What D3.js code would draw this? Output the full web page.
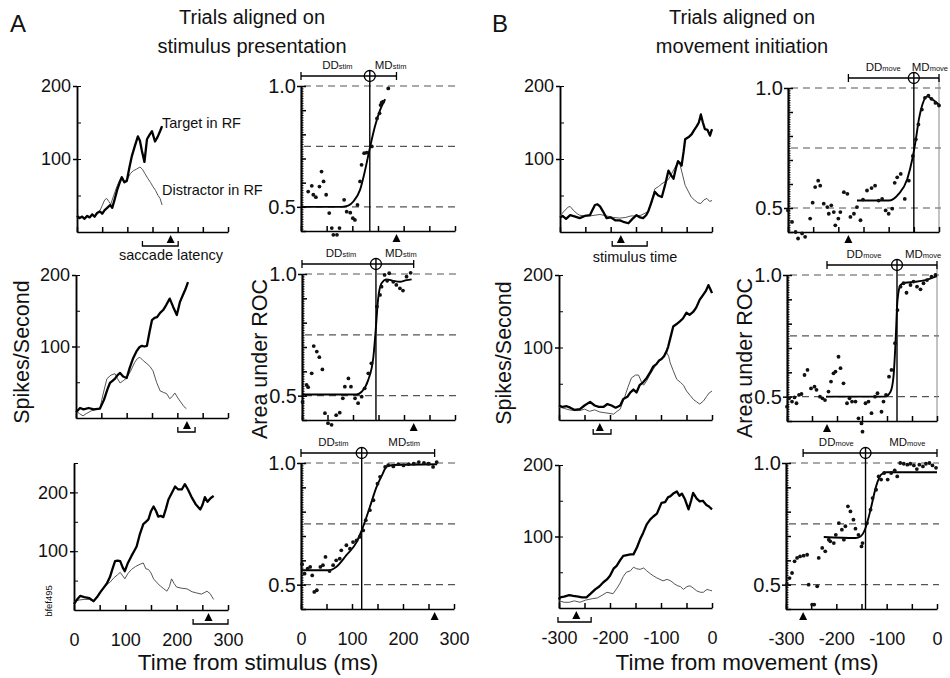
<!DOCTYPE html>
<html>
  <head>
    <meta charset='utf-8'>
    <style>
      body { margin: 0; background: #fff; }
      svg text { font-family: "Liberation Sans", Arial, sans-serif; fill: #111; }
      .axis path, .axis line { stroke: #000; stroke-width: 1.5; }
      .axis.thin line { stroke-width: 1; }
      .axis text { font-size: 18px; font-family: "Liberation Sans", Arial, sans-serif; fill: #111; }
      .axis.roc text { font-size: 20px; }
    </style>
  </head>
  <body>
    <script src="https://d3js.org/d3.v7.min.js"></script>
    <script type="text/javascript">

      // --------------------------- data --------------------------
      // spike density [time ms, spikes/s] ; target in RF (thick) and distractor in RF (thin)
      var a1Target = [[0,22],[5,19],[10,21],[15,18],[20,22],[25,20],[30,24],[35,21],[40,26],[46,28],[50,25],[55,30],[60,33],[66,37],[70,33],[75,45],[80,58],[85,68],[89,75],[94,68],[99,70],[104,88],[109,104],[115,118],[121,131],[125,125],[129,111],[134,96],[139,127],[144,133],[149,138],[152,131],[155,124],[160,130],[165,138],[169,145]];
      var a1Distractor = [[0,24],[5,20],[10,22],[15,19],[20,23],[25,21],[30,25],[35,22],[40,27],[46,30],[50,36],[55,44],[59,46],[63,42],[67,38],[72,48],[78,60],[84,70],[89,76],[94,70],[100,72],[106,80],[112,84],[118,86],[125,89],[130,86],[135,80],[141,73],[146,68],[151,62],[156,57],[161,50],[165,46],[169,37]];
      var a2Target = [[0,8],[8,14],[15,12],[25,14],[35,12],[47,13],[55,25],[62,40],[67,49],[72,52],[77,55],[82,60],[87,63],[93,58],[100,56],[106,70],[113,84],[120,94],[125,99],[130,101],[135,100],[140,101],[145,120],[150,137],[155,140],[160,141],[166,147],[172,151],[178,158],[185,167],[192,155],[199,144],[205,162],[211,172],[216,180],[221,190]];
      var a2Distractor = [[0,10],[7,6],[14,3],[20,6],[30,10],[40,12],[47,13],[54,35],[61,55],[69,60],[77,62],[82,55],[87,49],[93,52],[100,56],[108,66],[116,78],[121,83],[126,85],[133,80],[140,76],[146,72],[152,66],[159,50],[166,38],[172,36],[179,34],[185,27],[190,30],[195,35],[201,28],[208,21],[213,16],[218,13]];
      var a3Target = [[0,10],[6,18],[12,24],[20,22],[30,20],[38,15],[45,22],[51,30],[58,38],[64,45],[70,56],[75,70],[80,83],[85,84],[90,83],[95,72],[99,66],[105,80],[112,92],[117,100],[122,108],[128,128],[135,146],[140,150],[145,154],[150,168],[155,176],[160,168],[164,159],[169,160],[174,158],[179,172],[184,188],[190,198],[197,210],[203,205],[210,205],[216,214],[222,205],[229,192],[237,180],[246,171],[250,178],[255,192],[260,184],[266,190],[272,194]];
      var a3Distractor = [[0,14],[10,17],[20,18],[30,18],[38,15],[45,22],[51,30],[58,38],[64,44],[70,47],[78,55],[85,60],[90,64],[95,58],[99,53],[105,62],[112,69],[120,74],[129,78],[135,80],[140,70],[145,69],[150,63],[155,53],[162,46],[168,41],[175,36],[181,32],[186,40],[190,53],[195,45],[200,39],[210,37],[220,36],[230,31],[239,29],[248,27],[255,30],[259,32],[265,28],[272,18]];

      var b1Target = [[-300,20],[-295,22],[-288,18],[-280,23],[-270,21],[-261,19],[-251,22],[-241,23],[-236,30],[-231,37],[-226,38],[-221,35],[-215,28],[-208,19],[-200,20],[-191,16],[-182,16],[-175,14],[-165,12],[-157,18],[-149,23],[-142,20],[-136,19],[-130,23],[-126,28],[-120,40],[-113,55],[-106,50],[-99,48],[-92,66],[-86,84],[-81,78],[-76,73],[-71,88],[-67,97],[-63,94],[-60,91],[-56,110],[-53,127],[-46,130],[-40,134],[-35,140],[-30,145],[-26,150],[-22,161],[-18,150],[-14,141],[-9,140],[-4,132],[0,141]];
      var b1Distractor = [[-300,22],[-295,26],[-290,30],[-284,34],[-280,35],[-274,30],[-266,25],[-261,23],[-251,22],[-241,22],[-231,23],[-221,24],[-208,22],[-195,20],[-182,19],[-170,20],[-160,22],[-149,22],[-140,23],[-126,28],[-119,40],[-113,59],[-106,62],[-99,66],[-90,70],[-85,73],[-78,82],[-71,91],[-67,96],[-63,92],[-58,78],[-53,64],[-47,56],[-41,48],[-35,44],[-28,40],[-22,39],[-16,44],[-10,46],[-5,42],[0,43]];
      var b2Target = [[-300,20],[-293,18],[-285,19],[-278,17],[-270,14],[-259,15],[-250,20],[-239,25],[-230,20],[-222,18],[-213,18],[-205,22],[-197,20],[-189,17],[-180,20],[-174,29],[-166,32],[-160,38],[-154,42],[-148,38],[-142,48],[-135,52],[-128,58],[-121,66],[-115,74],[-109,77],[-104,82],[-99,84],[-94,88],[-89,95],[-86,101],[-81,115],[-76,129],[-70,132],[-63,136],[-57,140],[-50,148],[-44,145],[-37,149],[-31,155],[-24,166],[-18,172],[-12,178],[-7,186],[-3,180],[0,175]];
      var b2Distractor = [[-300,18],[-290,16],[-280,14],[-270,13],[-259,13],[-250,15],[-240,12],[-230,14],[-220,11],[-210,10],[-200,9],[-193,8],[-186,12],[-180,15],[-172,30],[-165,45],[-158,58],[-150,62],[-144,62],[-138,52],[-134,48],[-128,54],[-122,62],[-115,70],[-108,78],[-99,84],[-94,89],[-89,93],[-85,88],[-82,79],[-76,68],[-69,56],[-62,52],[-56,48],[-50,40],[-43,34],[-36,28],[-30,25],[-24,22],[-17,26],[-11,32],[-6,37],[0,40]];
      var b3Target = [[-300,12],[-298,15],[-290,16],[-280,18],[-272,17],[-262,16],[-255,15],[-246,15],[-238,20],[-229,26],[-221,30],[-213,36],[-206,40],[-200,45],[-193,55],[-187,59],[-180,67],[-174,73],[-167,74],[-160,75],[-154,75],[-147,85],[-141,96],[-135,105],[-128,117],[-121,124],[-115,128],[-108,132],[-99,147],[-92,148],[-86,155],[-82,156],[-76,160],[-69,163],[-64,157],[-59,160],[-53,152],[-46,138],[-41,150],[-37,161],[-30,153],[-24,149],[-18,150],[-11,144],[-6,142],[0,138]];
      var b3Distractor = [[-300,10],[-290,8],[-280,8],[-270,10],[-259,8],[-248,11],[-235,13],[-225,14],[-215,18],[-206,22],[-200,21],[-194,20],[-186,28],[-180,35],[-174,44],[-168,50],[-160,52],[-154,57],[-148,55],[-141,54],[-134,56],[-128,52],[-121,48],[-115,45],[-108,42],[-102,40],[-96,38],[-88,40],[-81,38],[-74,34],[-67,31],[-62,30],[-56,26],[-49,30],[-43,31],[-37,28],[-30,24],[-23,22],[-17,22],[-10,26],[-5,25],[0,24]];

      // area under ROC [time ms, value] : points and fitted curve
      var rocA1Dots = [[14,0.563],[21,0.587],[24,0.55],[29,0.54],[36,0.584],[40,0.646],[44,0.605],[49,0.55],[55,0.474],[60,0.412],[63,0.384],[70,0.384],[75,0.412],[84,0.529],[89,0.48],[96,0.476],[101,0.453],[105,0.446],[110,0.508],[115,0.605],[118,0.674],[123,0.722],[128,0.724],[138,0.75],[148,0.866],[153,0.887],[155,0.921],[157,0.931],[160,0.935],[170,0.99]];
      var rocA1Fit = [[0,0.5],[80,0.5],[92,0.505],[102,0.522],[115,0.57],[125,0.653],[134,0.742],[144,0.832],[154,0.9],[164,0.945]];
      var rocA2Dots = [[1,0.474],[9,0.544],[12,0.535],[19,0.592],[23,0.704],[29,0.681],[34,0.658],[40,0.608],[45,0.428],[51,0.387],[58,0.38],[67,0.42],[74,0.43],[80,0.489],[84,0.537],[91,0.571],[96,0.537],[104,0.489],[110,0.469],[117,0.496],[123,0.53],[130,0.592],[136,0.633],[147,0.866],[153,0.914],[156,0.948],[162,0.996],[167,0.972],[171,1.003],[179,0.968],[185,0.955],[192,0.941],[198,0.932],[205,0.989],[213,1.005]];
      var rocA2Fit = [[1,0.505],[107,0.505],[117,0.516],[130,0.565],[140,0.66],[145,0.783],[149,0.893],[156,0.962],[166,0.978],[179,0.972],[192,0.968],[205,0.975],[215,0.978]];
      var rocA3Dots = [[2,0.584],[7,0.545],[13,0.566],[18,0.573],[22,0.538],[26,0.47],[31,0.477],[38,0.573],[43,0.58],[48,0.614],[56,0.556],[63,0.58],[69,0.6],[76,0.607],[79,0.641],[89,0.662],[96,0.648],[102,0.675],[109,0.682],[115,0.696],[122,0.723],[127,0.765],[135,0.806],[142,0.847],[150,0.915],[155,0.943],[165,0.984],[171,0.991],[181,0.986],[191,0.995],[201,0.99],[211,0.995],[221,0.997],[231,1.004],[241,1.0],[250,0.997],[259,0.984],[266,1.004]];
      var rocA3Fit = [[0,0.559],[53,0.559],[69,0.573],[89,0.621],[109,0.675],[119,0.723],[135,0.819],[148,0.901],[158,0.946],[168,0.985],[181,0.992],[267,0.995]];
      var rocB1Dots = [[-300,0.49],[-292,0.442],[-285,0.40],[-280,0.373],[-272,0.394],[-266,0.38],[-256,0.456],[-251,0.522],[-246,0.587],[-240,0.614],[-236,0.593],[-229,0.518],[-222,0.504],[-219,0.476],[-214,0.511],[-209,0.483],[-206,0.428],[-200,0.456],[-196,0.483],[-189,0.566],[-182,0.559],[-176,0.463],[-169,0.476],[-163,0.504],[-156,0.449],[-151,0.535],[-143,0.573],[-134,0.583],[-127,0.593],[-120,0.531],[-113,0.538],[-106,0.49],[-100,0.476],[-93,0.497],[-88,0.605],[-83,0.628],[-76,0.642],[-68,0.538],[-60,0.614],[-52,0.717],[-46,0.786],[-41,0.848],[-34,0.91],[-28,0.959],[-21,0.968],[-15,0.955],[-7,0.938],[0,0.927]];
      var rocB1Fit = [[-163,0.531],[-100,0.531],[-80,0.559],[-63,0.621],[-53,0.704],[-46,0.786],[-40,0.869],[-33,0.931],[-23,0.965],[-15,0.955],[0,0.93]];
      var rocB2Dots = [[-300,0.459],[-296,0.493],[-290,0.48],[-285,0.497],[-281,0.473],[-276,0.507],[-271,0.511],[-265,0.589],[-259,0.61],[-252,0.534],[-245,0.541],[-241,0.528],[-234,0.5],[-229,0.493],[-224,0.486],[-217,0.521],[-212,0.562],[-207,0.596],[-203,0.603],[-197,0.664],[-193,0.617],[-187,0.555],[-180,0.473],[-175,0.493],[-170,0.48],[-163,0.48],[-157,0.411],[-151,0.39],[-149,0.356],[-143,0.473],[-137,0.48],[-131,0.432],[-124,0.5],[-119,0.514],[-111,0.438],[-107,0.48],[-102,0.507],[-96,0.582],[-91,0.61],[-84,0.72],[-79,0.856],[-73,0.952],[-67,0.966],[-61,0.927],[-53,0.959],[-47,0.973],[-40,0.952],[-33,0.941],[-27,0.966],[-20,0.979],[-11,0.993],[-3,1.0]];
      var rocB2Fit = [[-222,0.5],[-104,0.5],[-93,0.52],[-87,0.582],[-83,0.72],[-79,0.897],[-73,0.959],[-64,0.968],[-43,0.972],[-23,0.979],[0,0.995]];
      var rocB3Dots = [[-298,0.5],[-293,0.527],[-288,0.548],[-283,0.596],[-278,0.61],[-272,0.616],[-265,0.619],[-258,0.623],[-255,0.5],[-248,0.418],[-244,0.418],[-238,0.493],[-235,0.61],[-228,0.651],[-222,0.637],[-215,0.685],[-212,0.678],[-205,0.671],[-201,0.705],[-195,0.753],[-189,0.726],[-185,0.685],[-182,0.74],[-177,0.822],[-172,0.801],[-166,0.767],[-162,0.73],[-156,0.705],[-150,0.657],[-148,0.671],[-139,0.753],[-132,0.808],[-128,0.856],[-121,0.89],[-116,0.945],[-111,0.932],[-105,0.959],[-98,0.932],[-91,0.959],[-84,0.97],[-79,0.945],[-73,1.0],[-66,0.997],[-59,0.993],[-53,0.997],[-46,0.99],[-40,0.975],[-35,0.993],[-28,0.986],[-22,0.997],[-15,1.0],[-9,0.99],[-2,0.98]];
      var rocB3Fit = [[-225,0.696],[-162,0.692],[-152,0.698],[-142,0.733],[-132,0.808],[-121,0.904],[-111,0.952],[-101,0.962],[-81,0.962],[0,0.962]];

      // discrimination time (vertical line) per row
      var crossA = [134, 145, 119];
      var crossB = [-50, -80, -142];
      // mean and range of saccade latency (A) / stimulus time (B)
      var saccadeLatency = [{mean:186, lo:130, hi:201}, {mean:219, lo:201, hi:235}, {mean:262, lo:232, hi:300}];
      var stimulusTime = [{mean:-180, lo:-197, hi:-128}, {mean:-220, lo:-233, hi:-198}, {mean:-266, lo:-302, hi:-237}];

      var stimTicks = [0, 50, 100, 150, 200, 250, 300];
      var moveTicks = [-300, -250, -200, -150, -100, -50, 0];
      var stimTickLabels = [0, 100, 200, 300];
      var moveTickLabels = [-300, -200, -100, 0];
      var spikeLabels = [100, 200];
      var rocLabels = [0.5, 1.0];
      var rocRefLines = [0.5, 0.75, 1.0];

      // --------------------------- layout (pixels) --------------------------
      var width = 950, height = 678;
      var spikeFrames = [
        {x0:77, x1:228, y0:232, y1:86, top:200},
        {x0:76, x1:228, y0:418, y1:275, top:200},
        {x0:74, x1:228, y0:610, y1:463, top:250},
        {x0:560, x1:712, y0:232, y1:86, top:200},
        {x0:559, x1:712, y0:420, y1:275, top:200},
        {x0:559, x1:712, y0:608, y1:465, top:200}
      ];
      var rocFrames = [
        {x0:301, x1:455, y0:231, y1:86},
        {x0:302, x1:455, y0:420, y1:274},
        {x0:301, x1:454, y0:609, y1:463},
        {x0:788, x1:939, y0:232, y1:88},
        {x0:787, x1:937, y0:421, y1:275},
        {x0:786, x1:937, y0:609, y1:463}
      ];

      var svg = d3.select("body").append("svg")
        .attr("width", width).attr("height", height)
        .style("display", "block");

      function drawSpike(f, dom, target, distractor, mk, xt, xl) {
        var x = d3.scaleLinear().domain(dom).range([f.x0, f.x1]);
        var y = d3.scaleLinear().domain([0, f.top]).range([f.y0, f.y1]);
        var g = svg.append("g");
        var line = d3.line().x(function(d){ return x(d[0]); }).y(function(d){ return y(d[1]); });

        g.append("g").attr("class", "axis").attr("transform", "translate(0," + f.y0 + ")")
          .call(d3.axisBottom(x).tickValues(xt).tickSizeInner(-5).tickSizeOuter(0).tickPadding(23)
            .tickFormat(function(d){ return xl.indexOf(d) >= 0 ? d : ""; }));
        g.append("g").attr("class", "axis thin").attr("transform", "translate(" + f.x0 + ",0)")
          .call(d3.axisLeft(y).tickValues(d3.range(50, f.top + 1, 50)).tickSizeInner(-4).tickSizeOuter(0).tickFormat(""));
        g.append("g").attr("class", "axis").attr("transform", "translate(" + f.x0 + ",0)")
          .call(d3.axisLeft(y).tickValues(spikeLabels).tickSizeInner(4).tickSizeOuter(0).tickPadding(2));

        g.append("path").datum(distractor).attr("d", line)
          .attr("fill", "none").attr("stroke", "#555").attr("stroke-width", 1);
        g.append("path").datum(target).attr("d", line)
          .attr("fill", "none").attr("stroke", "#000").attr("stroke-width", 2.3)
          .attr("stroke-linejoin", "round");

        // mean marker and range bracket under the axis
        var mx = x(mk.mean), by = f.y0 + 14;
        g.append("path")
          .attr("d", "M" + (mx - 4) + "," + (f.y0 + 11) + "L" + mx + "," + (f.y0 + 3) + "L" + (mx + 4) + "," + (f.y0 + 11) + "Z")
          .attr("fill", "#000");
        g.append("path")
          .attr("d", "M" + x(mk.lo) + "," + (by - 5) + "V" + by + "H" + x(mk.hi) + "V" + (by - 5))
          .attr("fill", "none").attr("stroke", "#000").attr("stroke-width", 1.3);
        return x;
      }

      function ddLabel(g, base, name, sub, pos, minLeft) {
        var t = g.append("text").attr("y", base).attr("fill", "#222");
        t.append("tspan").text(name).style("font-size", "11.5px");
        t.append("tspan").text(sub).style("font-size", "7.5px");
        var w = t.node().getComputedTextLength();
        var left = pos - w / 2;
        if (minLeft !== undefined) left = Math.max(left, minLeft);
        // keep inside the picture
        left = Math.min(left, width - 2 - w);
        t.attr("x", left);
      }

      function drawRoc(f, dom, dots, fit, cross, dd, tri, sub, xt, xl, edge) {
        var x = d3.scaleLinear().domain(dom).range([f.x0, f.x1]);
        var y = d3.scaleLinear().domain([0.4, 1.0]).range([f.y0, f.y1]);
        var g = svg.append("g");
        var by = y(1.0) - 10;

        g.selectAll(".ref").data(rocRefLines).enter().append("line")
          .attr("x1", f.x0 + 3).attr("x2", f.x1 + 2)
          .attr("y1", function(d){ return y(d); }).attr("y2", function(d){ return y(d); })
          .attr("stroke", "#555").attr("stroke-width", 1.1).attr("stroke-dasharray", "7,5");
        if (edge) {
          g.append("line").attr("x1", x(dom[1])).attr("x2", x(dom[1])).attr("y1", by).attr("y2", f.y0)
            .attr("stroke", "#888").attr("stroke-width", 1);
        }

        g.append("g").attr("class", "axis").attr("transform", "translate(0," + f.y0 + ")")
          .call(d3.axisBottom(x).tickValues(xt).tickSizeInner(-5).tickSizeOuter(0).tickPadding(23)
            .tickFormat(function(d){ return xl.indexOf(d) >= 0 ? d : ""; }));
        g.append("g").attr("class", "axis thin").attr("transform", "translate(" + f.x0 + ",0)")
          .call(d3.axisLeft(y).tickValues(d3.range(0.41, 0.995, 0.01)).tickSizeInner(-2.5).tickSizeOuter(0).tickFormat(""));
        g.append("g").attr("class", "axis").attr("transform", "translate(" + f.x0 + ",0)")
          .call(d3.axisLeft(y).tickValues(d3.range(0.4, 1.001, 0.1)).tickSizeInner(-5).tickSizeOuter(0).tickFormat(""));
        g.append("g").attr("class", "axis roc").attr("transform", "translate(" + f.x0 + ",0)")
          .call(d3.axisLeft(y).tickValues(rocLabels).tickSizeInner(4).tickSizeOuter(0).tickPadding(1)
            .tickFormat(d3.format(".1f")));

        g.append("path").datum(fit)
          .attr("d", d3.line().curve(d3.curveMonotoneX)
            .x(function(d){ return x(d[0]); }).y(function(d){ return y(d[1]); }))
          .attr("fill", "none").attr("stroke", "#000").attr("stroke-width", 1.9);
        g.selectAll(".dot").data(dots).enter().append("circle")
          .attr("cx", function(d){ return x(d[0]); })
          .attr("cy", function(d){ return y(d[1]); })
          .attr("r", 1.9).attr("fill", "#111");

        // discrimination time, bracket and crosshair
        var cx = x(cross), bx0 = x(dd[0]), bx1 = x(dd[1]);
        g.append("line").attr("x1", cx).attr("x2", cx).attr("y1", f.y0).attr("y2", by - 5.5)
          .attr("stroke", "#000").attr("stroke-width", 1.4);
        g.append("path")
          .attr("d", "M" + bx0 + "," + (by - 4) + "V" + (by + 4) + "M" + bx0 + "," + by + "H" + bx1 +
                     "M" + bx1 + "," + (by - 4) + "V" + (by + 4))
          .attr("fill", "none").attr("stroke", "#000").attr("stroke-width", 1.3);
        g.append("circle").attr("cx", cx).attr("cy", by).attr("r", 5.5)
          .attr("fill", "none").attr("stroke", "#000").attr("stroke-width", 1.3);
        ddLabel(g, by - 7, "DD", sub, (bx0 + cx) / 2 + 2);
        ddLabel(g, by - 7, "MD", sub, (cx + bx1) / 2 + 6, cx + 5);

        var tx = x(tri);
        g.append("path")
          .attr("d", "M" + (tx - 4) + "," + (f.y0 + 11) + "L" + tx + "," + (f.y0 + 3) + "L" + (tx + 4) + "," + (f.y0 + 11) + "Z")
          .attr("fill", "#000");
      }

      // --------------------------- panels --------------------------
      var spikeA = [[a1Target, a1Distractor], [a2Target, a2Distractor], [a3Target, a3Distractor]];
      var spikeB = [[b1Target, b1Distractor], [b2Target, b2Distractor], [b3Target, b3Distractor]];
      var rocA = [[rocA1Dots, rocA1Fit], [rocA2Dots, rocA2Fit], [rocA3Dots, rocA3Fit]];
      var rocB = [[rocB1Dots, rocB1Fit], [rocB2Dots, rocB2Fit], [rocB3Dots, rocB3Fit]];

      for (var i = 0; i < 3; i++) {
        var last = i == 2;
        drawSpike(spikeFrames[i], [0, 300], spikeA[i][0], spikeA[i][1], saccadeLatency[i],
          stimTicks, last ? stimTickLabels : []);
        drawSpike(spikeFrames[i + 3], [-300, 0], spikeB[i][0], spikeB[i][1], stimulusTime[i],
          moveTicks, last ? moveTickLabels : []);
        drawRoc(rocFrames[i], [0, 300], rocA[i][0], rocA[i][1], crossA[i],
          [0, saccadeLatency[i].mean], saccadeLatency[i].mean, "stim", stimTicks, last ? stimTickLabels : [], false);
        drawRoc(rocFrames[i + 3], [-300, 0], rocB[i][0], rocB[i][1], crossB[i],
          [stimulusTime[i].mean, 0], stimulusTime[i].mean, "move", moveTicks, last ? moveTickLabels : [], !last);
      }

      // --------------------------- text --------------------------
      function label(x, y, s, size, anchor, rot, color) {
        svg.append("text")
          .attr("transform", "translate(" + x + "," + y + ")" + (rot ? " rotate(" + rot + ")" : ""))
          .attr("text-anchor", anchor || "middle")
          .style("font-size", size + "px")
          .attr("fill", color || "#111")
          .text(s);
      }

      label(10, 32, "A", 24, "start");
      label(492, 32, "B", 24, "start");
      label(252, 23.5, "Trials aligned on", 20);
      label(252, 52.5, "stimulus presentation", 20);
      label(742, 23.5, "Trials aligned on", 20);
      label(742, 52.5, "movement initiation", 20);

      label(29, 352, "Spikes/Second", 21.5, "middle", -90);
      label(267, 359, "Area under ROC", 21.5, "middle", -90);
      label(511, 353, "Spikes/Second", 21.5, "middle", -90);
      label(752, 358, "Area under ROC", 21.5, "middle", -90);

      label(258, 670, "Time from stimulus (ms)", 22.5);
      label(747, 670, "Time from movement (ms)", 22.5);

      label(162, 128, "Target in RF", 14.5, "start", 0, "#222");
      label(162, 195, "Distractor in RF", 14.5, "start", 0, "#222");
      label(171, 260, "saccade latency", 14.5, "middle", 0, "#333");
      label(635, 262, "stimulus time", 14.5, "middle", 0, "#333");
      label(52, 601, "bfef495", 9.5, "middle", -90, "#222");

    </script>
  </body>
</html>
